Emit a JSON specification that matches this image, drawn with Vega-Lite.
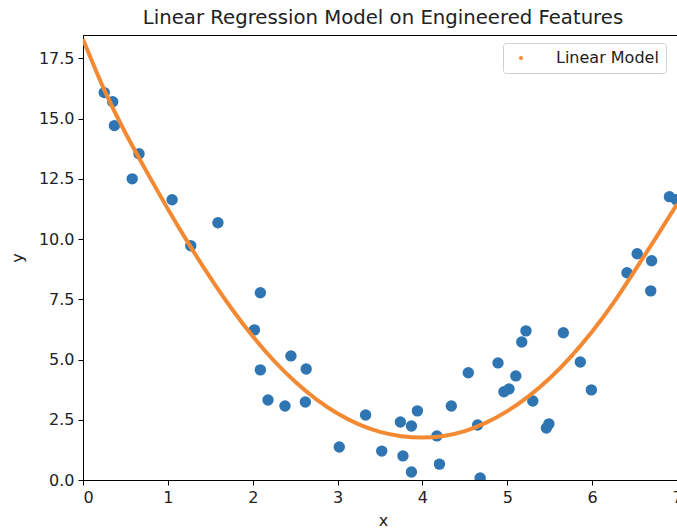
{
  "$schema": "https://vega.github.io/schema/vega-lite/v6.json",
  "autosize": "none",
  "width": 600,
  "height": 445,
  "padding": {"left": 83, "top": 35, "right": 0, "bottom": 49},
  "background": "white",
  "config": {
    "font": "DejaVu Sans",
    "view": {"stroke": "black", "strokeWidth": 1},
    "axis": {
      "grid": false,
      "domainColor": "black",
      "tickColor": "black",
      "tickSize": 5,
      "labelColor": "#222222",
      "titleColor": "#222222",
      "labelFontSize": 16,
      "titleFontSize": 16,
      "titleFontWeight": "normal",
      "labelPadding": 4,
      "labelFont": "DejaVu Sans",
      "titleFont": "DejaVu Sans"
    },
    "title": {"fontSize": 19.7, "fontWeight": "normal", "color": "#222222", "font": "DejaVu Sans", "offset": 7}
  },
  "title": {"text": "Linear Regression Model on Engineered Features", "anchor": "middle"},
  "datasets": {
    "obs": [
      {"x": 0.25, "y": 16.08}, {"x": 0.35, "y": 15.70}, {"x": 0.37, "y": 14.71},
      {"x": 0.66, "y": 13.54}, {"x": 0.58, "y": 12.50}, {"x": 1.05, "y": 11.63},
      {"x": 1.27, "y": 9.72}, {"x": 1.59, "y": 10.68}, {"x": 2.09, "y": 7.77},
      {"x": 2.02, "y": 6.23}, {"x": 2.09, "y": 4.57}, {"x": 2.18, "y": 3.32},
      {"x": 2.45, "y": 5.15}, {"x": 2.38, "y": 3.07}, {"x": 2.63, "y": 4.61},
      {"x": 2.62, "y": 3.24}, {"x": 3.02, "y": 1.37}, {"x": 3.33, "y": 2.70},
      {"x": 3.52, "y": 1.20}, {"x": 3.74, "y": 2.41}, {"x": 3.77, "y": 1.00},
      {"x": 3.87, "y": 2.24}, {"x": 3.87, "y": 0.33}, {"x": 3.94, "y": 2.87},
      {"x": 4.17, "y": 1.83}, {"x": 4.20, "y": 0.66}, {"x": 4.34, "y": 3.07},
      {"x": 4.54, "y": 4.45}, {"x": 4.65, "y": 2.28}, {"x": 4.68, "y": 0.08},
      {"x": 4.89, "y": 4.86}, {"x": 4.96, "y": 3.66}, {"x": 5.02, "y": 3.78},
      {"x": 5.10, "y": 4.32}, {"x": 5.17, "y": 5.73}, {"x": 5.22, "y": 6.19},
      {"x": 5.30, "y": 3.28}, {"x": 5.46, "y": 2.16}, {"x": 5.49, "y": 2.33},
      {"x": 5.66, "y": 6.11}, {"x": 5.86, "y": 4.90}, {"x": 5.99, "y": 3.74},
      {"x": 6.41, "y": 8.60}, {"x": 6.53, "y": 9.39}, {"x": 6.70, "y": 9.10},
      {"x": 6.69, "y": 7.85}, {"x": 6.91, "y": 11.76}, {"x": 6.99, "y": 11.63}
    ],
    "fit": [
      {"x": 0.0, "y": 18.3}, {"x": 0.25, "y": 16.2}, {"x": 0.5, "y": 14.4},
      {"x": 0.75, "y": 12.8}, {"x": 1.0, "y": 11.25}, {"x": 1.25, "y": 9.78},
      {"x": 1.5, "y": 8.4}, {"x": 1.75, "y": 7.12}, {"x": 2.0, "y": 5.97},
      {"x": 2.25, "y": 4.95}, {"x": 2.5, "y": 4.08}, {"x": 2.75, "y": 3.35},
      {"x": 3.0, "y": 2.76}, {"x": 3.25, "y": 2.31}, {"x": 3.5, "y": 2.0},
      {"x": 3.75, "y": 1.82}, {"x": 4.0, "y": 1.76}, {"x": 4.25, "y": 1.83},
      {"x": 4.5, "y": 2.03}, {"x": 4.75, "y": 2.38}, {"x": 5.0, "y": 2.86},
      {"x": 5.25, "y": 3.47}, {"x": 5.5, "y": 4.22}, {"x": 5.75, "y": 5.12},
      {"x": 6.0, "y": 6.16}, {"x": 6.25, "y": 7.35}, {"x": 6.5, "y": 8.68},
      {"x": 6.75, "y": 10.05}, {"x": 7.0, "y": 11.45}
    ]
  },
  "layer": [
    {
      "data": {"name": "obs"},
      "mark": {"type": "circle", "size": 130, "color": "#2e75b2", "opacity": 1, "clip": true},
      "encoding": {
        "x": {"field": "x", "type": "quantitative",
              "scale": {"domain": [0, 7.07], "nice": false, "zero": false},
              "axis": {"values": [0, 1, 2, 3, 4, 5, 6, 7], "format": "d", "title": "x", "titlePadding": 7}},
        "y": {"field": "y", "type": "quantitative",
              "scale": {"domain": [0, 18.47], "nice": false, "zero": false},
              "axis": {"values": [0, 2.5, 5, 7.5, 10, 12.5, 15, 17.5], "format": ".1f", "title": "y", "titlePadding": 13}}
      }
    },
    {
      "data": {"name": "fit"},
      "mark": {"type": "line", "strokeWidth": 4, "interpolate": "natural", "clip": true},
      "encoding": {
        "x": {"field": "x", "type": "quantitative"},
        "y": {"field": "y", "type": "quantitative"},
        "color": {
          "datum": "Linear Model",
          "type": "nominal",
          "scale": {"range": ["#f38a33"]},
          "legend": {
            "title": null,
            "orient": "none",
            "legendX": 420,
            "legendY": 8,
            "symbolType": "circle",
            "symbolSize": 16,
            "symbolFillColor": "#f38a33",
            "symbolStrokeWidth": 0,
            "symbolOffset": 3,
            "labelOffset": 27,
            "labelFontSize": 16,
            "labelColor": "#222222",
            "labelFont": "DejaVu Sans",
            "padding": 7,
            "strokeColor": "#d0d0d0",
            "fillColor": "white",
            "cornerRadius": 3
          }
        }
      }
    }
  ]
}
